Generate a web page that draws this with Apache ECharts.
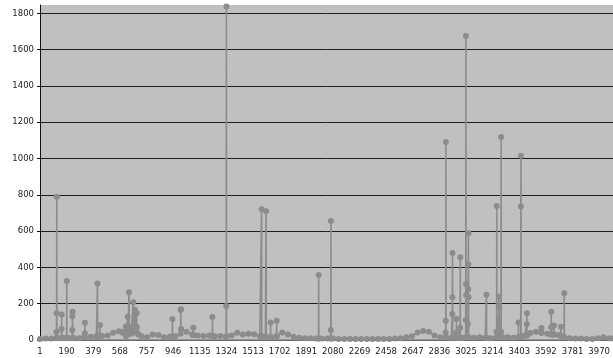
<!DOCTYPE html>
<html>
<head>
<meta charset="utf-8">
<script src="https://cdn.jsdelivr.net/npm/echarts@6/dist/echarts.min.js"></script>
<style>
html,body{margin:0;padding:0;background:#fff;}
#chart{width:613px;height:358px;}
</style>
</head>
<body>
<div id="chart"></div>
<script>
// number of categories on the x axis (1..N)
const N = 4068;

// baseline readings, one every 40 categories starting at category 1
const baseStart = 1;
const baseStep = 40;
const baseVals = [
  5, 8, 8, 10, 12, 10, 12, 10, 15, 18,
  20, 22, 25, 40, 48, 45, 55, 50, 20, 15,
  30, 28, 15, 18, 20, 35, 45, 30, 25, 22,
  25, 20, 22, 18, 25, 40, 30, 35, 32, 20,
  18, 15, 20, 42, 30, 18, 12, 10, 10, 8,
  8, 8, 8, 6, 6, 6, 6, 6, 6, 6,
  6, 6, 6, 8, 10, 15, 20, 42, 50, 45,
  25, 15, 12, 10, 12, 12, 10, 12, 15, 12,
  10, 15, 18, 15, 12, 18, 25, 38, 45, 40,
  35, 30, 28, 15, 10, 8, 8, 6, 6, 10,
  15, 10
];
const lastCat = 4068;
const lastVal = 8;

// spikes: category index and value
const spikeCats = [
  117,118,119,120,121,
  153,154,155,156,
  190,191,192,
  229,230,231,232,233,
  319,320,321,
  408,409,410,
  426,427,428,
  588,590,611,612,622,623,624,632,633,634,646,647,648,662,663,664,674,675,676,686,687,688,689,700,
  940,941,942,
  999,1000,1001,1002,
  1088,1089,1090,
  1224,1225,1226,
  1322,1323,1324,1325,
  1573,1574,1575,
  1605,1606,1607,
  1637,1638,1639,
  1680,1681,1682,
  1978,1979,1980,
  2064,2065,2066,2067,
  2879,2880,2881,2882,2883,
  2926,2927,2928,2929,2930,
  2955,2956,2957,2958,
  2982,2983,2984,2985,
  3022,3023,3024,3025,3026,3027,
  3038,3039,3040,3041,3042,3043,3044,
  3169,3170,3171,
  3241,3242,3243,3244,
  3257,3258,3259,3260,3261,
  3272,3273,3274,3275,
  3396,3397,3398,
  3413,3414,3415,3416,
  3455,3456,3457,3458,
  3559,3560,3561,
  3628,3629,3630,3631,
  3648,3649,3650,
  3698,3699,3700,
  3721,3722,3723
];
const spikeVals = [
  10,44,147,790,12,
  10,60,140,12,
  12,325,12,
  10,55,131,156,12,
  37,95,15,
  18,312,20,
  20,83,20,
  40,45,75,20,30,128,30,40,263,75,40,72,35,40,208,50,45,165,70,45,148,72,40,30,
  18,116,18,
  35,165,170,60,
  28,68,28,
  22,127,22,
  18,187,1838,20,
  20,720,20,
  18,709,18,
  15,97,15,
  20,106,20,
  8,358,8,
  8,55,656,8,
  15,42,106,1091,15,
  12,143,235,480,12,
  12,42,116,12,
  12,68,456,12,
  15,110,1675,307,248,15,
  15,88,279,417,588,236,15,
  12,250,12,
  15,46,738,15,
  15,110,239,184,15,
  15,46,1118,15,
  15,97,15,
  18,735,1015,18,
  25,88,147,25,
  40,66,40,
  30,70,156,30,
  30,80,30,
  20,73,20,
  15,257,15
];

// y axis
const yMin = 0;
const yMax = 1846;
const yStep = 200;

// category labels
const categories = [];
for (let i = 1; i <= N; i++) categories.push(String(i));

// build the series data (empty where nothing was read)
const data = new Array(N).fill('-');
baseVals.forEach((v, k) => { data[baseStart + k * baseStep - 1] = v; });
data[lastCat - 1] = lastVal;
spikeCats.forEach((c, k) => { data[c - 1] = spikeVals[k]; });

const chart = echarts.init(document.getElementById('chart'), null, {renderer: 'canvas'});
const fontFamily = 'DejaVu Sans, Verdana, sans-serif';
chart.setOption({
  animation: false,
  backgroundColor: '#ffffff',
  grid: {
    left: 40, right: 0, top: 5, bottom: 18,
    show: true, backgroundColor: '#c0c0c0', borderWidth: 0
  },
  xAxis: {
    type: 'category',
    data: categories,
    boundaryGap: false,
    axisLine: {show: true, lineStyle: {color: '#858585', width: 1.5}},
    axisTick: {show: false},
    splitLine: {show: false},
    axisLabel: {
      interval: 188, color: '#222222', fontSize: 8.5, fontFamily: fontFamily, margin: 7
    }
  },
  yAxis: {
    type: 'value',
    min: yMin, max: yMax, interval: yStep,
    axisLine: {show: true, lineStyle: {color: '#111111', width: 1}},
    axisTick: {show: true, length: 3, lineStyle: {color: '#111111'}},
    splitLine: {show: true, showMaxLine: false, lineStyle: {color: '#1e1e1e', width: 1}},
    axisLabel: {
      showMaxLabel: false, color: '#222222', fontSize: 8.5, fontFamily: fontFamily, margin: 6,
      formatter: (v) => String(v)
    }
  },
  series: [{
    type: 'line',
    data: data,
    connectNulls: true,
    showAllSymbol: true,
    symbol: 'circle',
    symbolSize: 6,
    clip: true,
    lineStyle: {color: '#8c8c8c', width: 1.6},
    itemStyle: {color: '#8c8c8c'},
    emphasis: {disabled: true}
  }]
});
</script>
</body>
</html>
